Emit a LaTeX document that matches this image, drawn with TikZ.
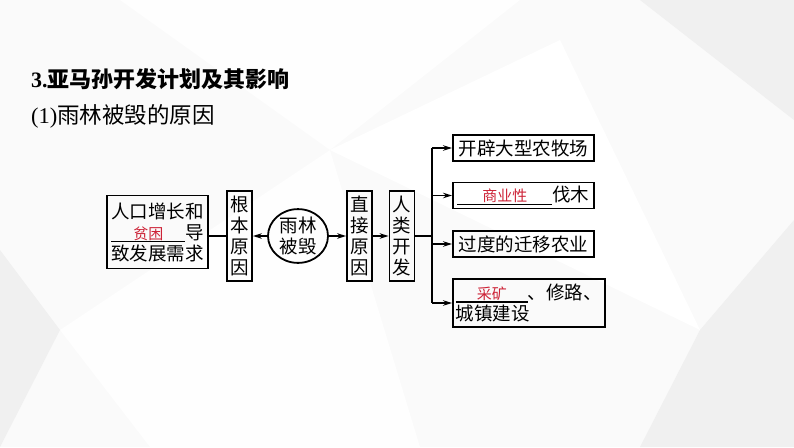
\documentclass[tikz,border=0pt]{standalone}
\usepackage{fontspec}
\setmainfont{Liberation Serif}
\newfontfamily\cjk{Noto Sans CJK SC}
\usetikzlibrary{positioning,arrows.meta,shapes.geometric}
\definecolor{blankred}{RGB}{205,35,55}
\definecolor{facet}{RGB}{240,240,240}
\newcommand\fillin[2]{\leavevmode\rlap{\rule[-3pt]{#1}{1.2pt}}\makebox[#1]{\fontsize{15}{15}\selectfont\color{blankred}#2}}

\begin{document}
\begin{tikzpicture}[
      x=1pt, y=-1pt,
      font=\cjk\fontsize{18.5}{21}\selectfont,
      >={Stealth[length=9pt,width=5.5pt]},
      box/.style={draw, line width=1.8pt, inner xsep=3pt, inner ysep=2pt},
      vbox/.style={box, align=center, minimum width=25pt, minimum height=90pt, inner xsep=2pt},
      item/.style={box, anchor=west, minimum height=26pt, align=left},
      link/.style={line width=1.4pt}
  ]
    \fill[white!96!gray] (0,0) rectangle (794,447);
    \useasboundingbox (0,0) rectangle (794,447);
    \fill[white!99!gray] (120,0) -- (520,0) -- (330,150) -- cycle;
    \fill[white] (330,150) -- (560,40) -- (700,330) -- cycle;
    \fill[white!99!gray] (60,330) -- (330,150) -- (420,447) -- (150,447) -- cycle;
    \fill[facet] (0,250) -- (60,330) -- (0,447) -- cycle;
    \fill[facet] (700,330) -- (794,220) -- (794,447) -- (640,447) -- cycle;
    \fill[facet] (640,0) -- (794,0) -- (794,120) -- cycle;

    \node[anchor=west, inner sep=0pt, font=\fontsize{22}{22}\selectfont] (title) at (31,79) {\textbf{3.}{\cjk\bfseries 亚马孙开发计划及其影响}};
    \node[anchor=west, inner sep=0pt, font=\fontsize{22.5}{23}\selectfont] (sub) at (31,116) {(1){\cjk 雨林被毁的原因}};

    \node[box, align=left, minimum width=101pt, minimum height=73pt] (cause) at (157.5,232) {人口增长和\\\fillin{74pt}{贫困}导\\致发展需求};
    \node[vbox] (root) at (239.5,236) {根\\本\\原\\因};
    \node[draw, ellipse, line width=1.8pt, minimum width=60pt, minimum height=52pt, inner sep=0pt, align=center] (ruin) at (298,236) {雨林\\被毁};
    \node[vbox] (direct) at (359.5,236) {直\\接\\原\\因};
    \node[vbox] (human) at (402,236) {人\\类\\开\\发};
    \coordinate (fork) at (432,236);

    \node[item, minimum width=141pt] (m1) at (452,148) {开辟大型农牧场};
    \node[item, minimum width=141pt] (m2) at (452,195.5) {\fillin{95pt}{商业性}伐木};
    \node[item, minimum width=141pt] (m3) at (452,244) {过度的迁移农业};
    \node[item, minimum width=150pt, minimum height=48pt] (m4) at (452,303) {\fillin{72pt}{采矿}、修路、\\城镇建设};

    \draw[link] (root.west -| cause.east) -- (root.west);
    \draw[link,->] (ruin.west) -- (root.east);
    \draw[link,->] (ruin.east) -- (direct.west);
    \draw[link,->] (direct.east) -- (human.west);
    \draw[link] (human.east) -- (fork);
    \draw[link] (fork |- m1.west) -- (fork |- m4.west);
    \foreach \m in {m1,m2,m3,m4}
      \draw[link,->] (fork |- \m.west) -- (\m.west);
  \end{tikzpicture}
\end{document}
